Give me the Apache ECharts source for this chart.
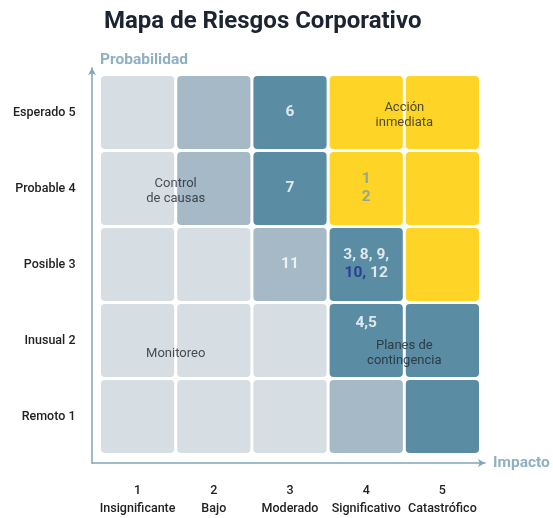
<!DOCTYPE html>
<html>
<head>
<meta charset="utf-8">
<script src="https://cdn.jsdelivr.net/npm/echarts@6/dist/echarts.min.js"></script>
<style>
html, body { margin: 0; padding: 0; background: #fff; }
#matriz { width: 553px; height: 518px; }
</style>
</head>
<body>
<div id="matriz"></div>
<script>
var impacto = ['1\nInsignificante', '2\nBajo', '3\nModerado', '4\nSignificativo', '5\nCatastrófico'];
var probabilidad = ['Remoto 1', 'Inusual 2', 'Posible 3', 'Probable 4', 'Esperado 5'];
// nivel de cada celda: filas de Remoto 1 a Esperado 5, columnas impacto 1..5
var niveles = [
    [0, 0, 0, 1, 2],
    [0, 0, 0, 2, 2],
    [0, 0, 1, 2, 3],
    [0, 1, 2, 3, 3],
    [0, 1, 2, 3, 3]
];
var colores = ['#d6dee4', '#a5b9c6', '#5a8ca3', '#fed427'];
// riesgos numerados: [texto, impacto, probabilidad]
var riesgos = [
    ['6', 3, 5],
    ['7', 3, 4],
    ['{gris|1}\n{gris|2}', 4, 4],
    ['11', 3, 3],
    ['3, 8, 9,\n{azul|10,} 12', 4, 3],
    ['4,5', 4, 2.23]
];
// zonas de respuesta: [texto, impacto, probabilidad]
var zonas = [
    ['Acción\ninmediata', 4.5, 4.97],
    ['Control\nde causas', 1.5, 3.97],
    ['Monitoreo', 1.5, 1.83],
    ['Planes de\ncontingencia', 4.5, 1.83]
];

var chart = echarts.init(document.getElementById('matriz'));

var celdas = [];
for (var f = 0; f < niveles.length; f++) {
    for (var c = 0; c < niveles[f].length; c++) {
        celdas.push([c, f, niveles[f][c]]);
    }
}

function renderCelda(params, api) {
    var p = api.coord([api.value(0), api.value(1)]);
    var s = api.size([1, 1]);
    return {
        type: 'rect',
        shape: { x: p[0] - s[0] / 2 + 1.5, y: p[1] - s[1] / 2 + 1.5, width: s[0] - 3, height: s[1] - 3, r: 4 },
        style: { fill: colores[api.value(2)] }
    };
}

var fuente = 'Roboto, "Noto Sans", sans-serif';
var ejeColor = '#7fa5b8';
var nombreEje = { color: '#8fb0c3', fontWeight: 'bold', fontSize: 15.5, fontFamily: fuente };

var option = {
    backgroundColor: '#fff',
    animation: false,
    title: {
        text: 'Mapa de Riesgos Corporativo',
        left: 99,
        top: 5,
        textStyle: { fontSize: 24, fontWeight: 'bold', color: '#1b2430', fontFamily: fuente }
    },
    grid: [
        { left: 99.5, right: 72.5, top: 74.5, bottom: 63.5 },
        { left: 92, right: 68, top: 68, bottom: 55 }
    ],
    xAxis: [
        {
            type: 'category', gridIndex: 0, data: impacto,
            axisLine: { show: false }, axisTick: { show: false }, splitLine: { show: false },
            axisLabel: { interval: 0, margin: 27, fontSize: 12.5, fontWeight: 500, lineHeight: 18, color: '#222', fontFamily: fuente }
        },
        { type: 'value', gridIndex: 0, min: 0.5, max: 5.5, show: false },
        {
            type: 'value', gridIndex: 1, min: 0, max: 1,
            axisLine: { show: true, symbol: ['none', 'arrow'], symbolSize: [6, 7], lineStyle: { color: ejeColor, width: 1.5 } },
            axisTick: { show: false }, axisLabel: { show: false }, splitLine: { show: false },
            name: 'Impacto', nameLocation: 'end', nameGap: 8, nameTextStyle: nombreEje
        }
    ],
    yAxis: [
        {
            type: 'category', gridIndex: 0, data: probabilidad,
            axisLine: { show: false }, axisTick: { show: false }, splitLine: { show: false },
            axisLabel: { interval: 0, margin: 24, fontSize: 12.5, fontWeight: 500, color: '#222', fontFamily: fuente }
        },
        { type: 'value', gridIndex: 0, min: 0.5, max: 5.5, show: false },
        {
            type: 'value', gridIndex: 1, min: 0, max: 1,
            axisLine: { show: true, symbol: ['none', 'arrow'], symbolSize: [6, 7], lineStyle: { color: ejeColor, width: 1.5 } },
            axisTick: { show: false }, axisLabel: { show: false }, splitLine: { show: false },
            name: 'Probabilidad', nameLocation: 'end', nameGap: 0,
            nameTextStyle: Object.assign({ align: 'left', padding: [0, 0, 0, 8] }, nombreEje)
        }
    ],
    series: [
        {
            type: 'custom',
            xAxisIndex: 0, yAxisIndex: 0,
            renderItem: renderCelda,
            data: celdas,
            silent: true
        },
        {
            type: 'scatter',
            xAxisIndex: 1, yAxisIndex: 1,
            symbolSize: 0,
            silent: true,
            data: riesgos.map(function (r) { return { name: r[0], value: [r[1], r[2]] }; }),
            label: {
                show: true, position: 'inside', formatter: '{b}', align: 'center',
                color: '#fff', fontWeight: 'bold', fontSize: 15.5, lineHeight: 18, fontFamily: fuente,
                rich: {
                    azul: { color: '#1c2d8e', fontWeight: 'bold', fontSize: 15.5, lineHeight: 18, fontFamily: fuente },
                    gris: { color: '#7b9ab0', fontWeight: 'bold', fontSize: 15.5, lineHeight: 18, fontFamily: fuente }
                }
            }
        },
        {
            type: 'scatter',
            xAxisIndex: 1, yAxisIndex: 1,
            symbolSize: 0,
            silent: true,
            data: zonas.map(function (z) { return { name: z[0], value: [z[1], z[2]] }; }),
            label: {
                show: true, position: 'inside', formatter: '{b}', align: 'center',
                color: '#22272e', fontSize: 13, lineHeight: 15, fontFamily: fuente
            }
        }
    ]
};

chart.setOption(option);
</script>
</body>
</html>
